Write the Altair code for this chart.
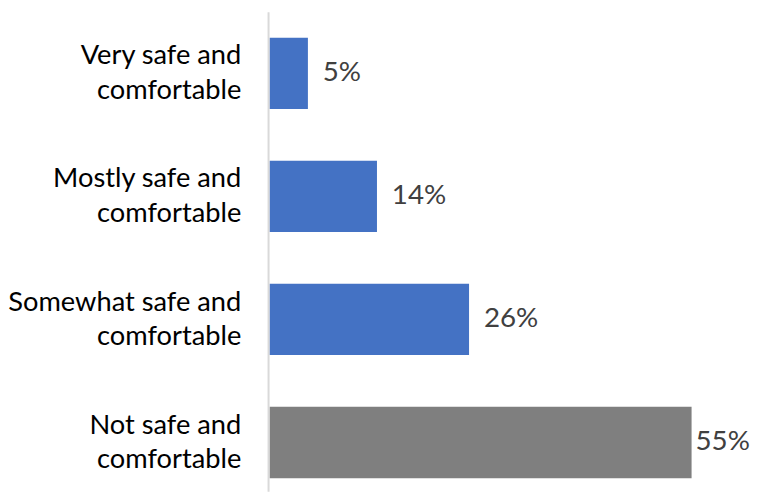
import altair as alt
import pandas as pd

categories = [
    "Very safe and comfortable",
    "Mostly safe and comfortable",
    "Somewhat safe and comfortable",
    "Not safe and comfortable",
]
values = [5, 14, 26, 55]
value_labels = ["5%", "14%", "26%", "55%"]
bar_colors = ["#4472C4", "#4472C4", "#4472C4", "#7F7F7F"]

df = pd.DataFrame({
    "category": categories,
    "value": values,
    "label": value_labels,
    "color": bar_colors,
})

FONT = "Lato"
FS = 28

y = alt.Y(
    "category:N",
    sort=categories,
    title=None,
    scale=alt.Scale(paddingInner=0.42, paddingOuter=0.118, align=0.874),
    axis=alt.Axis(
        domain=False,
        ticks=False,
        grid=False,
        labelExpr="split(replace(datum.label, 'and ', 'and|'), '|')",
        labelFont=FONT,
        labelFontSize=27.5,
        labelColor="#000000",
        labelLineHeight=35,
        labelOffset=-17,
        labelPadding=29,
        labelAlign="right",
        labelLimit=400,
    ),
)
x = alt.X("value:Q", scale=alt.Scale(domain=[0, 55], nice=False, zero=True), axis=None)

bars = alt.Chart(df).mark_bar().encode(
    x=x, y=y, color=alt.Color("color:N", scale=None)
)

labels_out = alt.Chart(df).transform_filter("datum.value < 50").mark_text(
    align="left", baseline="middle", dx=15, font=FONT, fontSize=FS, color="#404040"
).encode(x=x, y=y, text="label:N")

labels_in = alt.Chart(df).transform_filter("datum.value >= 50").mark_text(
    align="left", baseline="middle", dx=4, font=FONT, fontSize=FS, color="#404040"
).encode(x=x, y=y, text="label:N")

axis_line = alt.Chart(pd.DataFrame({"a": [0]})).mark_rule(
    color="#D9D9D9", strokeWidth=2
).encode(x=alt.value(-1), y=alt.value(0), y2=alt.value(484))

chart = alt.layer(bars, axis_line, labels_out, labels_in).properties(
    width=426,
    height=474,
    padding={"left": 264, "top": 2, "right": 62, "bottom": 10},
    autosize=alt.AutoSizeParams(type="none"),
).configure(background="#FFFFFF").configure_view(stroke=None)

chart.save("out.html", embed_options={"renderer": "svg", "actions": False})
